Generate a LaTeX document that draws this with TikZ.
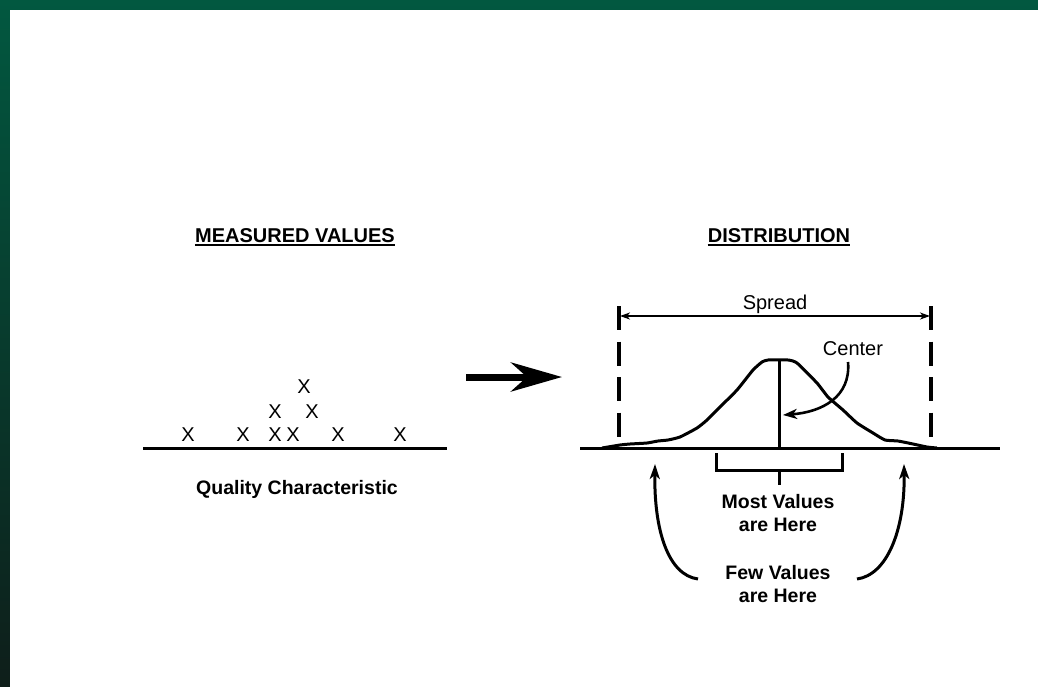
\documentclass[tikz,border=0pt]{standalone}
\usepackage{fontspec}
\setmainfont{Liberation Sans}
\usetikzlibrary{arrows.meta}
\definecolor{bgtop}{RGB}{2,88,64}
\definecolor{bgbot}{RGB}{14,30,26}
\begin{document}
\begin{tikzpicture}[x=1pt,y=-1pt,
  txt/.style={inner sep=0pt, font=\fontsize{20}{23}\selectfont},
  lbl/.style={inner sep=0pt, align=center, font=\fontsize{19.5}{23}\selectfont\bfseries},
  heading/.style={inner sep=0pt, anchor=base, font=\fontsize{20}{23}\selectfont\bfseries},
  uline/.style={line width=2.2pt},
  xmark/.style={txt, anchor=base},
  axis/.style={line width=3pt},
  thk/.style={line width=3pt},
  curvearrow/.style={line width=3pt, -{Stealth[length=15pt 0 0,width=10pt 0 0,inset=4pt 0]}},
]
\useasboundingbox (0,0) rectangle (1038,686);
\fill[top color=bgtop,bottom color=bgbot] (0,0) rectangle (1038,686);
\fill[white] (10,10) rectangle (1045,693);

% ---------- left panel ----------
\node[heading] (h1) at (295,242.5) {MEASURED VALUES};
\draw[uline] ([yshift=-2.5pt]h1.base west) -- ([yshift=-2.5pt]h1.base east);

\coordinate (lA) at (143,448);
\coordinate (lB) at (447,448);
\draw[axis] (lA) -- (lB);

\node[xmark] (x1) at (188,441.5) {X};
\node[xmark] (x2) at (243,441.5) {X};
\node[xmark] (x3) at (275,441.5) {X};
\node[xmark] (x4) at (293,441.5) {X};
\node[xmark] (x5) at (338,441.5) {X};
\node[xmark] (x6) at (400,441.5) {X};
\node[xmark] (x7) at (275,418) {X};
\node[xmark] (x8) at (312,418) {X};
\node[xmark] (x9) at (304,393) {X};

\node[lbl, anchor=base] (qc) at (297,494) {Quality Characteristic};

% ---------- big arrow ----------
\coordinate (bA) at (466,377);
\coordinate (bB) at (562,377);
\draw[line width=7pt, -{Stealth[length=51pt 0 0,width=29pt 0 0,inset=16pt 0]}] (bA) -- (bB);

% ---------- right panel ----------
\node[heading] (h2) at (779,242.5) {DISTRIBUTION};
\draw[uline] ([yshift=-2.5pt]h2.base west) -- ([yshift=-2.5pt]h2.base east);

\coordinate (rA) at (580,448);
\coordinate (rB) at (1000,448);
\draw[axis] (rA) -- (rB);

% dashed limits
\coordinate (dL1) at (619,306);
\coordinate (dL2) at (619,438);
\coordinate (dR1) at (931,306);
\coordinate (dR2) at (931,438);
\draw[line width=3.2pt, dash pattern=on 24pt off 11.5pt] (dL1) -- (dL2);
\draw[line width=3.2pt, dash pattern=on 24pt off 11.5pt] (dR1) -- (dR2);

% spread arrow
\coordinate (sL) at (620,316);
\coordinate (sR) at (930,316);
\draw[line width=1.8pt, {Stealth[length=10pt 0 0,width=7pt 0 0,inset=3pt 0]}-{Stealth[length=10pt 0 0,width=7pt 0 0,inset=3pt 0]}] (sL) -- (sR);
\node[txt, anchor=base] (spread) at (775,309) {Spread};

% bell curve
\draw[line width=3pt, line join=round] plot[smooth, tension=0.3] coordinates {
 (602,448) (620,445) (630,444) (647,443) (658,441) (668,440) (680,437)
 (697,428) (707,420) (720,407) (737,390) (753,370) (762,362) (768,360)
 (788,360) (797,363) (817,383) (828,397) (843,410) (857,423) (873,433)
 (885,440) (898,441) (913,444) (927,447) (937,448)};

% center line
\coordinate (cT) at (779,360);
\coordinate (cB) at (779,448);
\draw[thk] (cT) -- (cB);

\node[txt, anchor=base] (center) at (853,355) {Center};
\coordinate (cArr) at (848,362);
\coordinate (cTip) at (783,415);
\draw[line width=2.6pt, -{Stealth[length=14pt 0 0,width=10pt 0 0,inset=4pt 0]}]
  (cArr) .. controls (851,397) and (822,412) .. (cTip);

% bracket
\coordinate (bk1) at (716,453);
\coordinate (bk2) at (716,470);
\coordinate (bk3) at (842,470);
\coordinate (bk4) at (842,453);
\coordinate (bkm) at (779,470);
\coordinate (bks) at (779,485);
\draw[thk, line join=miter] (bk1) -- (bk2) -- (bk3) -- (bk4);
\draw[thk] (bkm) -- (bks);

\node[lbl] (most) at (778,513.5) {Most Values\\are Here};
\node[lbl] (few) at (778,584.5) {Few Values\\are Here};

% curved arrows to tails
\coordinate (fL0) at (698,579);
\coordinate (fL1) at (655,464);
\coordinate (fR0) at (857,579);
\coordinate (fR1) at (904,464);
\draw[curvearrow] (fL0) .. controls (668,575) and (654,530) .. (fL1);
\draw[curvearrow] (fR0) .. controls (887,575) and (905,530) .. (fR1);
\end{tikzpicture}
\end{document}
